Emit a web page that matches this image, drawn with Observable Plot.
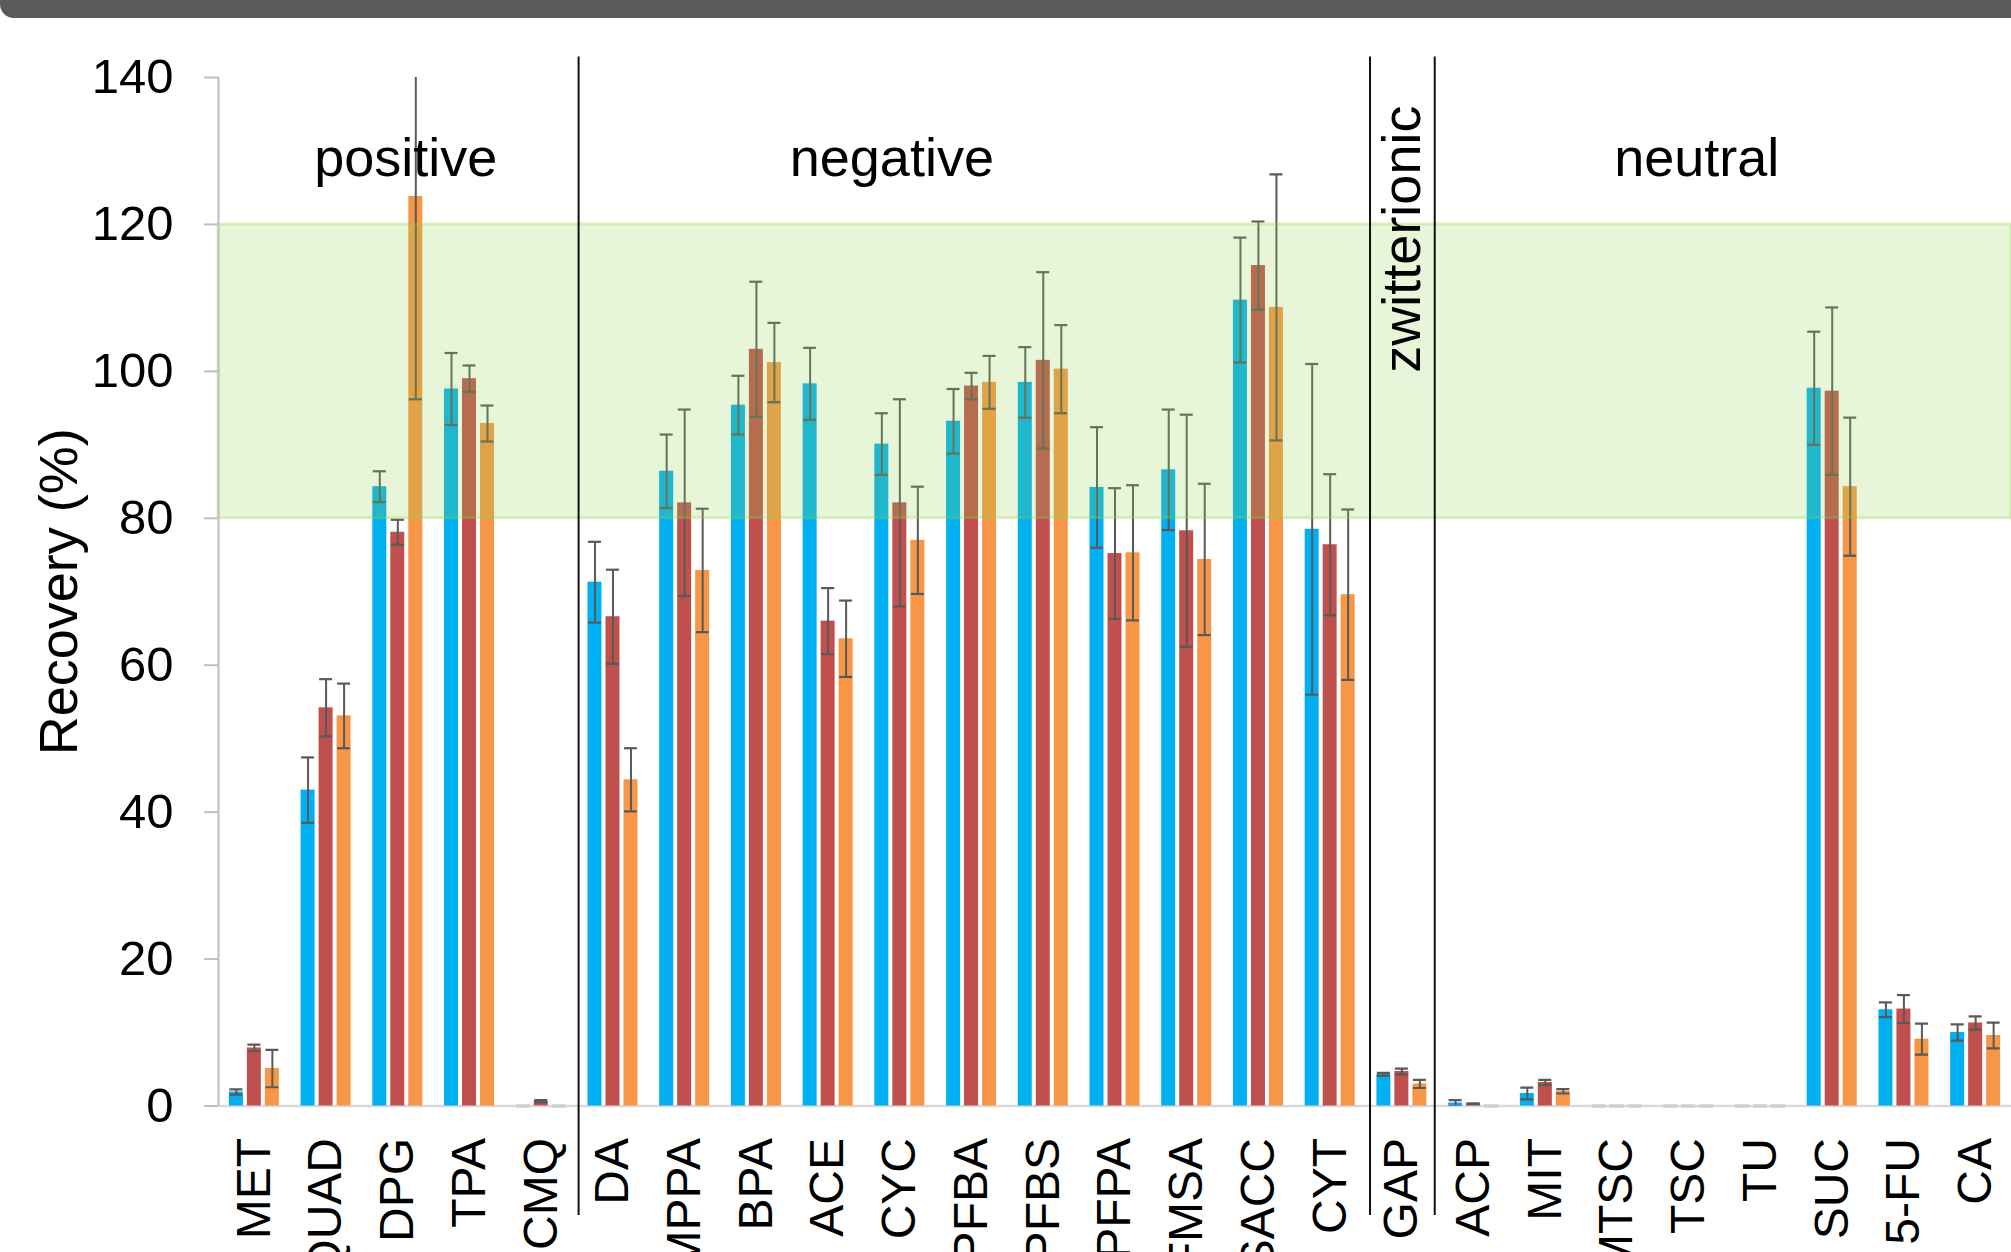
<!DOCTYPE html>
<html>
<head>
<meta charset="utf-8">
<script src="https://cdn.jsdelivr.net/npm/d3@7"></script>
<script src="https://cdn.jsdelivr.net/npm/@observablehq/plot@0.6"></script>
<style>
html, body { margin: 0; padding: 0; background: #ffffff; width: 2011px; height: 1252px; overflow: hidden; }
#topbar { position: absolute; left: 0; top: 0; width: 2011px; height: 18px; background: #5a5a5a; border-bottom-left-radius: 14px; z-index: 2; }
#chart { position: absolute; left: 0; top: 0; }
</style>
</head>
<body>
<div id="topbar"></div>
<div id="chart"></div>
<script>
// ---- data ----
const categories = ["MET","QUAD","DPG","TPA","CMQ","DA","MPPA","BPA","ACE","CYC","PFBA","PFBS","PFPA","FMSA","SACC","CYT","GAP","ACP","MIT","MTSC","TSC","TU","SUC","5-FU","CA"];
const seriesNames = ["Series 1", "Series 2", "Series 3"];
const seriesColors = ["#00B0F0", "#C0504D", "#F79646"];

const blueValues   = [1.9, 43.0, 84.3, 97.6, 0, 71.3, 86.4, 95.4, 98.3, 90.1, 93.2, 98.5, 84.2, 86.6, 109.7, 78.5, 4.3, 0.4, 1.7, 0, 0, 0, 97.7, 13.1, 10.0];
const blueErrors   = [0.35, 4.45, 2.1, 4.9, 0, 5.5, 5.0, 4.0, 4.9, 4.2, 4.4, 4.8, 8.2, 8.2, 8.5, 22.5, 0.2, 0.4, 0.8, 0, 0, 0, 7.7, 1.0, 1.1];
const redValues    = [7.9, 54.2, 78.1, 99.0, 0.65, 66.6, 82.1, 103.0, 66.0, 82.1, 98.0, 101.5, 75.2, 78.3, 114.4, 76.4, 4.7, 0.3, 3.2, 0, 0, 0, 97.3, 13.2, 11.3];
const redErrors    = [0.45, 3.9, 1.7, 1.8, 0.15, 6.4, 12.7, 9.2, 4.5, 14.1, 1.8, 12.0, 8.9, 15.8, 6.0, 9.6, 0.4, 0.05, 0.35, 0, 0, 0, 11.4, 1.9, 0.9];
const orangeValues = [5.1, 53.1, 123.8, 92.9, 0, 44.4, 72.9, 101.2, 63.6, 77.0, 98.5, 100.3, 75.3, 74.4, 108.7, 69.6, 3.0, 0, 2.0, 0, 0, 0, 84.3, 9.1, 9.6];
const orangeErrors = [2.55, 4.4, 27.6, 2.45, 0, 4.3, 8.4, 5.4, 5.2, 7.3, 3.6, 6.0, 9.2, 10.3, 18.1, 11.6, 0.55, 0, 0.3, 0, 0, 0, 9.4, 2.1, 1.75];

const yTicks = [0, 20, 40, 60, 80, 100, 120, 140];
const yLabel = "Recovery (%)";
const targetRange = [80, 120];
const groupLabels = [
  {text: "positive", at: "DPG"},
  {text: "negative", at: "CYC"},
  {text: "zwitterionic", at: "GAP"},
  {text: "neutral", at: "TSC"}
];
const separatorsBefore = ["DA", "GAP", "ACP"];

// ---- table ----
const valueSets = [blueValues, redValues, orangeValues];
const errorSets = [blueErrors, redErrors, orangeErrors];
const rows = [];
seriesNames.forEach((s, si) => categories.forEach((c, ci) => rows.push({
  category: c, series: s, si, value: valueSets[si][ci], err: errorSets[si][ci]
})));

// ---- layout / style ----
const W = 2011, H = 1252, ML = 218, MR = 0, MT = 77, MB = 146.5;
const step = (W - ML - MR) / categories.length;
const barW = 14, pitch = 18, capW = 13;
const barInset = (step - barW) / 2;
const capInset = (step - capW) / 2;
const errColor = "#595959";
const font = "'Liberation Sans', Arial, Helvetica, sans-serif";

const marks = [];

marks.push(Plot.ruleY([0], {stroke: "#d9d9d9", strokeWidth: 2.5}));

seriesNames.forEach((s, si) => {
  const d = rows.filter(r => r.si === si);
  marks.push(Plot.barY(d, {
    x: "category", y: "value", fill: seriesColors[si],
    insetLeft: barInset, insetRight: barInset, dx: (si - 1) * pitch
  }));
});

// faint marks for zero-valued results sitting on the baseline
seriesNames.forEach((s, si) => {
  const d = rows.filter(r => r.si === si && r.value === 0);
  marks.push(Plot.tickY(d, {x: "category", y: "value", dx: (si - 1) * pitch, insetLeft: barInset, insetRight: barInset, stroke: "#cfcfcf", strokeWidth: 3.5}));
});

seriesNames.forEach((s, si) => {
  const d = rows.filter(r => r.si === si && r.err > 0);
  const dx = (si - 1) * pitch;
  marks.push(Plot.ruleX(d, {x: "category", y1: r => r.value - r.err, y2: r => r.value + r.err, dx, stroke: errColor, strokeWidth: 2, clip: true}));
  marks.push(Plot.tickY(d, {x: "category", y: r => r.value - r.err, dx, insetLeft: capInset, insetRight: capInset, stroke: errColor, strokeWidth: 2.2, clip: true}));
  marks.push(Plot.tickY(d, {x: "category", y: r => r.value + r.err, dx, insetLeft: capInset, insetRight: capInset, stroke: errColor, strokeWidth: 2.2, clip: true}));
});

// green acceptance band (drawn over bars, translucent)
marks.push(Plot.rect([targetRange], {
  y1: d => d[0], y2: d => d[1],
  fill: "#92D050", fillOpacity: 0.22,
  stroke: "#92D050", strokeOpacity: 0.3, strokeWidth: 3
}));

// y axis line, ticks and labels
marks.push(Plot.ruleX([categories[0]], {x: d => d, dx: -step / 2, y1: 0, y2: 140, stroke: "#bfbfbf", strokeWidth: 2}));
marks.push(Plot.axisY({ticks: yTicks, tickSize: 14, tickPadding: 31, fontSize: 49, stroke: "#bfbfbf", strokeWidth: 2, fill: "black", label: null, tickFormat: d => String(d)}));
marks.push(Plot.text([yLabel], {text: d => d, frameAnchor: "left", dx: -159, rotate: -90, fontSize: 54, fill: "black", textAnchor: "middle", lineAnchor: "middle"}));

// x labels
marks.push(Plot.text(categories, {
  x: d => d, text: d => d, frameAnchor: "bottom", dy: 32, rotate: -90,
  textAnchor: "end", lineAnchor: "middle", fontSize: 48, fill: "black"
}));

// group separators
const sepNudge = {"DA": 1.5, "GAP": 4, "ACP": -3};
separatorsBefore.forEach(c => {
  marks.push(Plot.ruleX([c], {x: d => d, dx: -step / 2 + sepNudge[c], y1: -14.9, y2: 142.8, stroke: "#111", strokeWidth: 2}));
});

// group labels
const labelNudge = {positive: 8, negative: -8, zwitterionic: 1, neutral: 8};
groupLabels.forEach(g => {
  const vertical = g.text === "zwitterionic";
  marks.push(Plot.text([g], {
    x: "at", y: () => vertical ? 118 : 129, text: "text",
    rotate: vertical ? -90 : 0, dx: labelNudge[g.text],
    fontSize: 54, fill: "black", lineAnchor: "middle", textAnchor: "middle"
  }));
});

const chart = Plot.plot({
  width: W, height: H,
  marginLeft: ML, marginRight: MR, marginTop: MT, marginBottom: MB,
  x: {type: "band", domain: categories, padding: 0, round: false, axis: null},
  y: {domain: [0, 140], axis: null},
  style: {fontFamily: font, color: "black", background: "white", overflow: "visible"},
  marks
});
document.getElementById("chart").appendChild(chart);
</script>
</body>
</html>
